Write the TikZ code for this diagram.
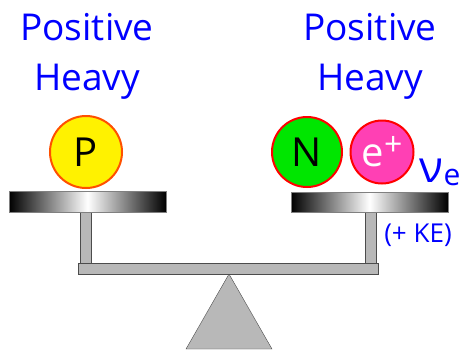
\documentclass[tikz,border=0pt]{standalone}
\usepackage{fontspec}
\setmainfont{Open Sans}
\usepackage{tikz}

\begin{document}
\begin{tikzpicture}[x=1pt, y=-1pt,
        word/.style ={text=blue, font=\fontsize{37}{50}\selectfont, align=center},
        ball/.style ={circle, draw=red, line width=2pt, inner sep=0pt,
                      font=\fontsize{40}{40}\selectfont},
        pan/.style  ={draw=gray, left color=black, right color=black, middle color=white},
        bar/.style  ={draw=black!70, fill=black!28},
    ]
        \useasboundingbox (0,0) rectangle (462,349);

        % Labels above the pans
        \node[word] (lefttxt)  at (87, 56)  {Positive\\Heavy};
        \node[word] (righttxt) at (370, 56) {Positive\\Heavy};

        % Stand and beam
        \draw[bar] (229,274) -- (272,349) -- (186,349) -- cycle;
        \draw[bar] (80,211) rectangle (91,263);
        \draw[bar] (365,211) rectangle (376,263);
        \draw[bar] (78,263) rectangle (378,274);

        % Pans
        \draw[pan] (9,191) rectangle (166,212);
        \draw[pan] (291,192) rectangle (448,212);

        % Particles
        \node[ball, fill=yellow, draw={rgb,255:red,255;green,80;blue,0},
              minimum size=72pt] (prot) at (86,152) {P};
        \node[ball, fill={rgb,255:red,0;green,230;blue,0},
              minimum size=70pt] (neut) at (307,152) {N};
        \node[ball, fill={rgb,255:red,255;green,64;blue,180}, text=white,
              minimum size=63pt] (posi) at (382,152) {e\raisebox{11pt}{\fontsize{32}{32}\selectfont +}};
        \node[text=blue, anchor=base, inner sep=0pt] (nue) at (440,182)
              {{\fontsize{44}{44}\selectfont ν}\raisebox{-3pt}{\fontsize{30}{30}\selectfont e}};
        \node[text=blue, font=\fontsize{26}{26}\selectfont] (ke) at (418,235) {(+ KE)};
    \end{tikzpicture}
\end{document}
